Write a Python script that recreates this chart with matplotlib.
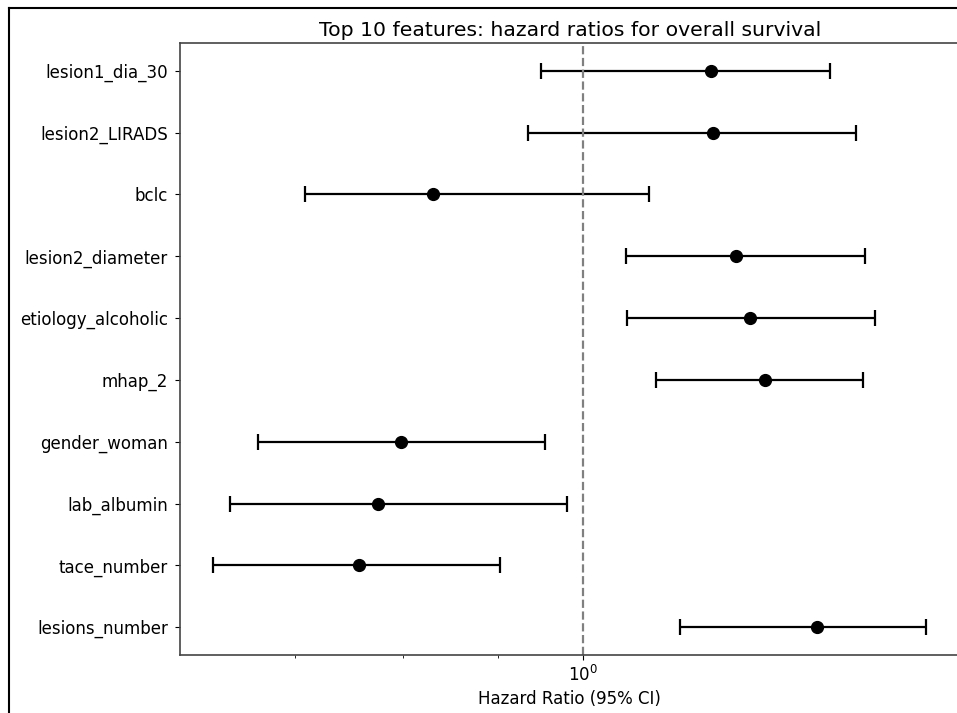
import matplotlib
matplotlib.use('Agg')
import matplotlib.pyplot as plt
from matplotlib.lines import Line2D
import numpy as np

# Hazard ratios e intervalos de confiança (95%)
features = ['lesion1_dia_30', 'lesion2_LIRADS', 'bclc', 'lesion2_diameter',
            'etiology_alcoholic', 'mhap_2', 'gender_woman', 'lab_albumin',
            'tace_number', 'lesions_number']
hr = [1.171, 1.174, 0.831, 1.208, 1.230, 1.252, 0.798, 0.776, 0.758, 1.335]
ci_lower = [0.949, 0.934, 0.709, 1.055, 1.056, 1.095, 0.669, 0.646, 0.633, 1.128]
ci_upper = [1.357, 1.401, 1.085, 1.417, 1.435, 1.414, 0.954, 0.980, 0.903, 1.529]

hr = np.array(hr)
err = [hr - np.array(ci_lower), np.array(ci_upper) - hr]
y = np.arange(len(features))

fig = plt.figure(figsize=(9.57, 7.13), dpi=100)
ax = fig.add_axes([0.188, 0.0813, 0.815, 0.8584])

ax.errorbar(hr, y, xerr=err, fmt='o', color='black', ecolor='black',
            markersize=8.5, elinewidth=1.6, capsize=6, capthick=1.6)
ax.axvline(1, color='gray', linestyle='--', linewidth=1.6)

ax.set_xscale('log')
ax.set_xlim(0.6074, 1.594)
ax.set_yticks(y)
ax.set_yticklabels(features, fontsize=12)
ax.invert_yaxis()
ax.tick_params(axis='x', labelsize=12)
ax.tick_params(axis='y', pad=5)
ax.set_xlabel('Hazard Ratio (95% CI)', fontsize=12)
ax.set_title('Top 10 features: hazard ratios for overall survival', fontsize=14.7, pad=5)

for s in ax.spines.values():
    s.set_color('#444444')
    s.set_linewidth(1.2)
ax.spines['right'].set_visible(False)

# moldura externa (só esquerda e topo aparecem no recorte)
fig.add_artist(Line2D([9/957, 9/957], [0, 1 - 8/713], color='black', linewidth=1.5))
fig.add_artist(Line2D([9/957, 1], [1 - 8/713, 1 - 8/713], color='black', linewidth=1.5))

fig.savefig('out.png', dpi=100)
